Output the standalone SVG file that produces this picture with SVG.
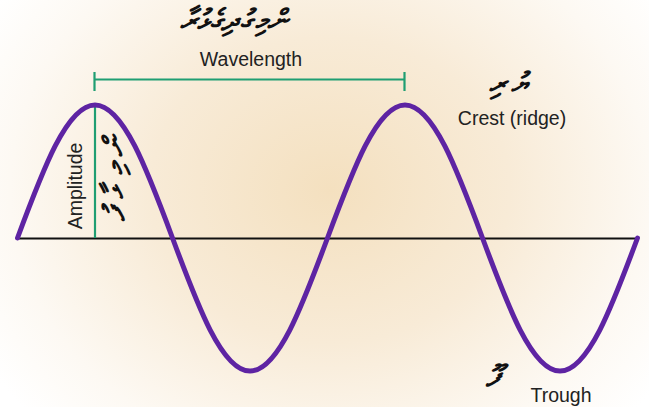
<svg xmlns="http://www.w3.org/2000/svg" width="649" height="407" viewBox="0 0 649 407">
<defs>
<radialGradient id="bg" cx="330" cy="190" r="400" gradientUnits="userSpaceOnUse" gradientTransform="translate(330 190) scale(1 0.85) translate(-330 -190)">
<stop offset="0" stop-color="#f4e0bf"/>
<stop offset="0.45" stop-color="#f8ebd7"/>
<stop offset="0.8" stop-color="#fdf9f3"/>
<stop offset="1" stop-color="#ffffff"/>
</radialGradient>
<style>
.lbl{font-family:"Liberation Sans",Arial,sans-serif;font-size:19.5px;fill:#222}
.th{font-family:"DejaVu Sans","Noto Sans",sans-serif;font-size:29px;font-weight:bold;fill:#111;font-style:italic;text-anchor:middle}
.grn{stroke:#1f9e72;stroke-width:2.2;fill:none}
</style>
</defs>
<rect width="649" height="407" fill="url(#bg)"/>
<g id="axis">
<line x1="17" y1="238.5" x2="637" y2="238.5" stroke="#111" stroke-width="2"/>
</g>
<g id="connectors">
<path class="grn" d="M94.5,79.5 H404.5 M94.5,72 V91 M404.5,72 V91"/>
<line class="grn" x1="95" y1="105" x2="95" y2="238"/>
</g>
<g id="wave">
<path d="M17.5,238 C42.78,169.9 66.95,105 95,105 S147.22,169.9 172.5,238 S221.95,371 250,371 S302.22,306.1 327.5,238 S376.95,105 405,105 S457.22,169.9 482.5,238 S531.95,371 560,371 S612.22,306.1 637.5,238" fill="none" stroke="#5e24a3" stroke-width="5" stroke-linecap="round"/>
</g>
<g id="wavelength">
<text class="th" y="30"><tspan x="188">ރާ</tspan><tspan x="203">ޅު</tspan><tspan x="216">ގެ</tspan><tspan x="230">ދި</tspan><tspan x="246">ގު</tspan><tspan x="261">މި</tspan><tspan x="277">ން</tspan></text>
<text class="lbl" x="251" y="66" text-anchor="middle">Wavelength</text>
</g>
<g id="crest">
<text class="th" y="93"><tspan x="497">ރި</tspan><tspan x="519">ޔު</tspan></text>
<text class="lbl" x="512" y="125" text-anchor="middle">Crest (ridge)</text>
</g>
<g id="amplitude">
<text class="lbl" x="0" y="0" text-anchor="middle" transform="translate(82 186) rotate(-90)">Amplitude</text>
<text class="th" y="0" transform="translate(124 180) rotate(-90)"><tspan x="-34">ފު</tspan><tspan x="-12">ޅާ</tspan><tspan x="12">މި</tspan><tspan x="34">ން</tspan></text>
</g>
<g id="trough">
<text class="th" x="493" y="386">ފޫ</text>
<text class="lbl" x="561" y="402" text-anchor="middle">Trough</text>
</g>
</svg>
